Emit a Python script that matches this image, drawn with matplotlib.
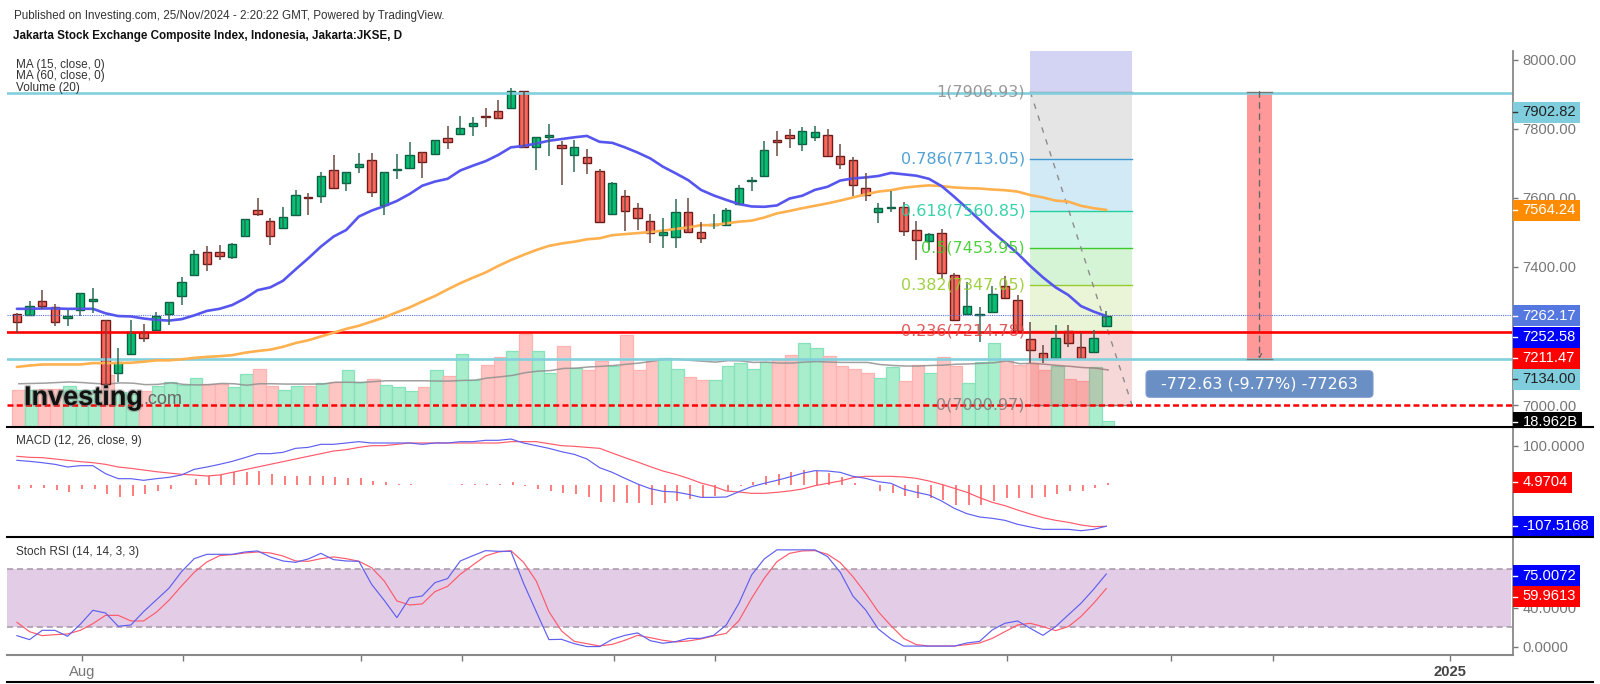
import matplotlib
matplotlib.use('Agg')
import matplotlib.pyplot as plt
import matplotlib.patheffects as pe
from matplotlib.patches import FancyBboxPatch
from matplotlib.transforms import Bbox
import numpy as np

plt.rcParams['font.family'] = ['Liberation Sans', 'DejaVu Sans']

# daily candles
opens = [7264,7260,7303,7283,7253,7276,7302,7246,7094,7148,
         7211,7218,7264,7317,7378,7444,7444,7429,7490,7564,
         7532,7513,7551,7602,7605,7681,7644,7690,7708,7578,
         7680,7685,7732,7728,7774,7785,7808,7837,7851,7861,
         7909,7747,7777,7752,7724,7717,7678,7552,7605,7570,
         7532,7493,7487,7559,7501,7520,7520,7581,7648,7662,
         7766,7782,7755,7777,7782,7720,7708,7628,7559,7570,
         7574,7506,7474,7498,7376,7264,7260,7271,7345,7304,
         7192,7150,7138,7215,7169,7153,7230]
highs = [7268,7301,7333,7293,7277,7326,7338,7247,7166,7247,
         7235,7270,7300,7370,7449,7462,7463,7468,7540,7599,
         7541,7573,7622,7615,7676,7723,7675,7730,7730,7675,
         7726,7760,7732,7767,7807,7837,7833,7860,7883,7917,
         7909,7777,7814,7763,7767,7740,7682,7645,7623,7584,
         7553,7542,7596,7599,7531,7552,7570,7638,7661,7764,
         7794,7798,7806,7809,7798,7755,7717,7671,7584,7621,
         7587,7533,7497,7510,7384,7357,7285,7346,7373,7319,
         7242,7174,7232,7232,7208,7218,7273]
lows = [7210,7260,7278,7229,7229,7258,7268,7054,7067,7148,
        7183,7218,7232,7291,7375,7389,7420,7423,7486,7546,
        7463,7513,7551,7550,7584,7627,7620,7673,7603,7550,
        7653,7685,7658,7728,7742,7785,7780,7806,7827,7861,
        7743,7680,7722,7638,7675,7669,7529,7552,7505,7507,
        7468,7454,7454,7501,7469,7509,7520,7578,7620,7662,
        7722,7745,7736,7763,7720,7684,7605,7592,7527,7559,
        7489,7420,7449,7366,7246,7264,7184,7271,7309,7215,
        7123,7121,7138,7170,7138,7153,7230]
closes = [7241,7286,7286,7241,7257,7326,7307,7063,7125,7211,
          7195,7257,7300,7356,7438,7410,7433,7467,7538,7554,
          7490,7545,7609,7599,7663,7627,7675,7698,7616,7675,
          7683,7724,7705,7767,7761,7801,7815,7835,7830,7909,
          7746,7777,7782,7743,7747,7701,7529,7644,7563,7543,
          7498,7502,7559,7501,7483,7523,7564,7628,7652,7739,
          7761,7774,7792,7789,7720,7697,7636,7609,7570,7574,
          7505,7478,7494,7382,7246,7287,7263,7322,7309,7215,
          7161,7133,7196,7179,7138,7196,7259]

ma15 = [7279,7279,7280,7280,7279,7279,7279,7266,7258,7257,
        7251,7247,7245,7249,7260,7273,7279,7290,7309,7333,
        7341,7360,7393,7425,7459,7488,7507,7546,7563,7576,
        7591,7611,7635,7647,7655,7679,7693,7706,7724,7746,
        7750,7757,7765,7770,7775,7779,7762,7759,7746,7731,
        7714,7690,7671,7651,7623,7607,7594,7582,7575,7574,
        7578,7598,7606,7623,7632,7650,7656,7659,7663,7672,
        7668,7664,7655,7634,7603,7570,7536,7502,7471,7439,
        7403,7370,7341,7319,7287,7271,7258]
ma60 = [7111,7115,7118,7118,7118,7118,7122,7122,7122,7123,
        7126,7130,7130,7133,7137,7140,7142,7145,7152,7157,
        7161,7169,7180,7188,7199,7210,7221,7230,7242,7254,
        7269,7283,7300,7316,7335,7353,7369,7384,7403,7420,
        7435,7449,7461,7468,7473,7480,7483,7492,7495,7498,
        7501,7505,7510,7514,7521,7521,7526,7531,7534,7543,
        7555,7562,7570,7577,7584,7592,7601,7610,7618,7622,
        7629,7633,7636,7634,7630,7628,7627,7624,7622,7618,
        7608,7601,7592,7589,7577,7570,7565]

# volume, billions
volume = [124,122,128,128,137,122,122,173,118,109,
          120,137,150,140,163,144,144,132,176,194,
          137,123,137,137,145,151,189,150,160,141,
          132,119,133,189,169,242,158,208,234,252,
          309,252,180,271,198,189,219,202,307,189,
          219,230,192,166,158,158,202,214,192,216,
          226,241,280,263,236,202,192,179,164,201,
          152,208,179,232,202,148,216,280,222,205,
          213,189,202,161,152,201,18.962]
volume_ma = [144,145,146,148,150,148,145,143,147,146,
             141,142,147,142,140,141,145,144,139,144,
             144,143,143,143,143,149,149,148,151,154,
             154,154,154,153,153,155,156,163,167,172,
             181,186,188,195,196,200,202,205,209,213,
             219,226,226,222,219,216,221,220,215,216,
             213,213,216,218,216,215,215,215,208,205,
             203,203,205,206,209,210,212,214,220,211,
             212,209,205,202,198,196,190]

macd_line = [62.8,60.2,56.8,52.6,45.8,49.2,49.2,28.8,16.1,16.1,
             11.9,16.1,19.5,25.5,39.9,45.8,52.6,60.2,69.6,79.7,
             79.7,83.1,93.3,95.8,103.5,103.5,106.9,110.3,106.9,106.9,
             106.9,106.9,103.5,106.9,106.9,110.3,110.3,113.7,113.7,117.0,
             106.9,100.1,93.3,84.8,78.0,66.2,44.1,32.2,17.0,2.6,
             -9.3,-16.1,-17.8,-23.7,-31.4,-31.4,-30.5,-17.0,-4.2,4.3,
             11.9,20.4,29.7,36.5,35.6,32.2,22.1,17.0,8.5,4.3,
             -10.2,-18.6,-25.4,-40.7,-59.3,-72.9,-81.4,-84.8,-89.9,-100.0,
             -106.8,-112.8,-112.8,-112.8,-116.2,-112.8,-105.0]
macd_signal = [73.0,70.4,69.6,66.2,62.8,59.4,56.8,52.6,45.8,42.4,
               38.2,33.9,30.5,27.2,25.5,22.9,25.5,32.2,39.0,45.8,
               52.6,59.4,66.2,73.0,79.7,86.5,89.9,95.8,100.1,100.1,
               103.5,106.9,106.9,106.9,106.9,106.9,106.9,106.9,106.9,110.3,
               110.3,110.3,105.2,100.1,98.4,95.8,93.3,81.4,69.6,58.5,
               46.7,35.6,27.2,17.0,5.1,-3.4,-15.2,-17.8,-21.2,-21.2,
               -18.6,-15.2,-10.2,-1.7,4.3,10.2,18.7,22.1,22.1,22.1,
               20.4,17.0,10.2,1.7,-8.5,-18.6,-32.2,-44.1,-52.6,-63.6,
               -73.8,-83.1,-89.9,-94.9,-101.7,-106.0,-105.0]
macd_hist = [-9.3,-8.5,-8.5,-13.6,-17,-9.3,-9.3,-23,-30,-27,
             -23,-16,-9,0,15,23,26,32,34,35,
             28,24,24,23,24,21,17,18,11,8,
             3,2.5,0,0,0,2,2,2,2,7,
             -2,-10,-14,-20,-23,-30,-42,-43,-47,-47,
             -50,-47,-41,-36,-31,-28,-15,-2,7,22,
             27,34,37,36,30,20,6,0.5,-14,-20,
             -28,-33,-33,-37,-50,-50,-50,-41,-34,-34,
             -34,-31,-24,-16,-14,-7,4.97]

stoch_k = [11.3,7.2,16.8,16.8,10.6,23.0,37.5,34.7,21.0,22.3,
           36.1,48.2,60.3,77.5,90.9,95.4,95.4,95.4,97.8,98.9,
           92.7,88.5,87.1,90.6,96.4,89.9,88.5,88.2,64.4,47.8,
           29.9,50.3,52.3,66.1,70.3,88.5,94.0,99.2,98.5,98.5,
           65.4,36.1,7.2,7.5,3.0,0,0,7.5,11.6,14.1,
           6.1,3.4,5.1,8.5,8.5,11.6,22.3,44.7,74.0,90.6,
           100,100,100,100,93,76.8,52.3,37.9,18.2,7.9,
           0.5,0.5,0.5,0.5,0.5,3.7,5.4,17.2,24.1,26.5,
           18.9,11.6,20.6,32.7,44.7,59.2,75.0]
stoch_d = [25.1,15.4,11.3,12.3,13.0,16.8,23.7,32.3,32.3,26.5,
           26.5,35.4,47.8,62.7,76.8,87.5,94.0,95.1,96.8,97.8,
           96.8,93.7,88.5,88.2,90.9,92.7,90.9,88.2,81.6,67.8,
           47.2,43.0,44.1,56.8,62.3,74.7,84.4,93.7,97.8,99.2,
           87.1,67.8,36.1,16.1,5.4,3.0,0.6,2.3,6.5,11.6,
           9.2,6.5,4.8,5.8,7.9,11.0,13.7,26.8,49.9,70.6,
           87.8,96.4,98.9,99.2,95.4,86.8,72.3,55.1,36.1,21.6,
           8.5,2.0,0.6,0.6,0.6,2.0,3.7,8.5,15.4,22.3,
           24.1,20.6,16.5,20.6,31.0,44.7,59.96]

fib_ratios = ['1', '0.786', '0.618', '0.5', '0.382', '0.236', '0']
fib_prices = [7906.93, 7713.05, 7560.85, 7453.95, 7347.05, 7214.78, 7000.97]
fib_colors = ['#8f8f8f', '#3f97d0', '#22cfa0', '#3ccb2a', '#97cc2e', '#dc4848', '#7f7f7f']
fib_fills = ['#808080', '#2196d2', '#1fd19a', '#2dcc2d', '#99cc33', '#d94040']

price_ticks = [7000, 7200, 7400, 7600, 7800, 8000]
date_ticks = [5, 13, 27, 35, 47, 55, 70, 78, 91, 99, 113]
date_labels = ['Aug', '', '', '', '', '', '', '', '', '', '2025']

# pixel layout of the panels
LEFT, RIGHT = 7, 1513
BAR0, STEP = 16.9, 12.667
W, H = 1600, 684
GREEN, RED = '#00c272', '#ff655b'
GREY = '#777777'


def panel(top, bottom, **kw):
    a = fig.add_axes([LEFT / W, 1 - bottom / H, (RIGHT - LEFT) / W, (bottom - top) / H], **kw)
    a.set_xlim((LEFT - BAR0) / STEP, (RIGHT - BAR0) / STEP)
    a.patch.set_alpha(0)
    for s in a.spines.values():
        s.set_visible(False)
    a.set_xticks([])
    return a


def right_axis(a, ticks, fmt):
    a.yaxis.tick_right()
    a.set_yticks(ticks)
    a.set_yticklabels([fmt % t for t in ticks], color=GREY, fontsize=10.6)
    a.tick_params(axis='y', length=3.5, width=1, color=GREY, pad=3.5)
    a.spines['right'].set_visible(True)
    a.spines['right'].set_color('#888888')
    a.spines['right'].set_linewidth(1.3)


fig = plt.figure(figsize=(W / 100, H / 100), dpi=100, facecolor='white')

x = np.arange(len(closes))
shift = 0.15
up = np.array(closes) >= np.array(opens)

# volume sits behind the price panel
ax_vol = panel(51, 427)
ax_vol.set_ylim(0, 376 * 3.33)
ax_vol.set_yticks([])
ax_vol.bar(x + shift, volume, width=1.0,
           color=['#a8edcc' if u else '#ffc5c3' for u in up],
           edgecolor=['#85e2ba' if u else '#ffb3b0' for u in up], linewidth=0.9)
ax_vol.plot(x + shift, volume_ma, color='#8f8f8f', lw=1.1, alpha=0.85)

ax = panel(51, 427)
ax.set_ylim(8172.1 - 2.892 * 427, 8172.1 - 2.892 * 51)
right_axis(ax, price_ticks, '%.2f')

# fib retracement
fib_left, fib_right = 80, 88.03
ax.fill_between([fib_left, fib_right], fib_prices[0], ax.get_ylim()[1], color='#5050d0', alpha=0.25, lw=0)
for i in range(len(fib_fills)):
    ax.fill_between([fib_left, fib_right], fib_prices[i + 1], fib_prices[i], color=fib_fills[i], alpha=0.2, lw=0)
for p, r, c in zip(fib_prices, fib_ratios, fib_colors):
    ax.plot([fib_left, fib_right], [p, p], color=c, lw=1.0)
    ax.text(fib_left - 0.42, p, '%s(%.2f)' % (r, p), color=c, ha='right', va='center',
            fontsize=11.5, family='DejaVu Sans', alpha=0.9)
ax.plot([fib_left, fib_right], [fib_prices[0], fib_prices[-1]], color='#8c8c8c', lw=1, ls=(0, (4, 5)))

# horizontal levels
ax.axhline(7904, color='#82d0de', lw=1.9)
ax.axhline(7134, color='#82d0de', lw=1.9)
ax.axhline(7211.47, color='#ff0000', lw=1.9)
ax.axhline(7000.97, color='#ff0000', lw=1.8, ls=(0, (2.4, 1.3)))
ax.axhline(7262.17, color='#5b72e0', lw=0.8, ls=(0, (1, 1)))

# price range box
ax.fill_between([97.1, 99.1], 7134, 7906.93, color='#ff0000', alpha=0.4, lw=0)
ax.plot([97.1, 99.1], [7906.93, 7906.93], color='#777777', lw=1)
ax.plot([97.1, 99.1], [7134, 7134], color='#777777', lw=1)
ax.annotate('', xy=(98.1, 7134), xytext=(98.1, 7906.93),
            arrowprops=dict(arrowstyle='->', ls=(0, (4, 4)), color='#666666', lw=1,
                            mutation_scale=7, shrinkA=0, shrinkB=0))

# moving averages
ax.plot(x, ma60, color='#ffb04f', lw=1.9, solid_capstyle='round')
ax.plot(x, ma15, color='#5656ee', lw=1.9, solid_capstyle='round')

# candles
ax.vlines(x[up], np.array(lows)[up], np.array(highs)[up], color='#2c6e55', lw=1.1)
ax.vlines(x[~up], np.array(lows)[~up], np.array(highs)[~up], color='#6d4a42', lw=1.1)
o = np.array(opens)
c = np.array(closes)
ax.bar(x[up], (c - o)[up], bottom=o[up], width=0.67, color=GREEN, edgecolor='#0c5f42', linewidth=1.0)
ax.bar(x[~up], (c - o)[~up], bottom=o[~up], width=0.67, color=RED, edgecolor='#701a1a', linewidth=1.0)

# MACD
ax_m = panel(427, 537)
ax_m.set_ylim(-132.3, 147.6)
right_axis(ax_m, [100], '%.4f')
ax_m.vlines(x + shift, 0, macd_hist, color='#ff3b3b', lw=1.1, alpha=0.85)
ax_m.plot(x, macd_signal, color='#ff5a6a', lw=0.85)
ax_m.plot(x, macd_line, color='#5f5ff0', lw=0.85)

# Stoch RSI
ax_s = panel(537, 654.5)
ax_s.set_ylim(-8.2, 113.3)
right_axis(ax_s, [0, 40], '%.4f')
ax_s.axhspan(20, 80, xmax=0.9987, color='#e3cde6', lw=0)
for lvl in [20, 80]:
    ax_s.axhline(lvl, color='#a594a8', lw=1.1, ls=(0, (4, 2.5)))
ax_s.plot(x, stoch_d, color='#ff5a6a', lw=0.85)
ax_s.plot(x, stoch_k, color='#5f5ff0', lw=0.85)
ax_s.spines['bottom'].set_visible(True)
ax_s.spines['bottom'].set_color('#888888')
ax_s.spines['bottom'].set_linewidth(1.5)
ax_s.set_xticks(np.array(date_ticks) + shift)
ax_s.set_xticklabels(date_labels, color=GREY, fontsize=10.6)
ax_s.tick_params(axis='x', length=4.5, width=1, color=GREY, pad=3)
ax_s.get_xticklabels()[-1].set_fontweight('bold')
ax_s.get_xticklabels()[-1].set_color('#444444')

# overlay in pixels for titles, tags and separators
ov = fig.add_axes([0, 0, 1, 1], zorder=20)
ov.set_xlim(0, W)
ov.set_ylim(H, 0)
ov.axis('off')

for yy in [427, 537, 682]:
    ov.plot([LEFT, 1593], [yy, yy], color='black', lw=1.5)

ov.text(14.5, 16, 'Published on Investing.com, 25/Nov/2024 - 2:20:22 GMT, Powered by TradingView.',
        fontsize=8.4, color='#333333', va='center')
ov.text(13, 35.7, 'Jakarta Stock Exchange Composite Index, Indonesia, Jakarta:JKSE, D',
        fontsize=8.4, color='#111111', va='center', fontweight='bold')
for yy, s in zip([65, 76, 88], ['MA (15, close, 0)', 'MA (60, close, 0)', 'Volume (20)']):
    ov.text(16, yy, s, fontsize=8.5, color='#333333', va='center')
ov.text(16, 441, 'MACD (12, 26, close, 9)', fontsize=8.5, color='#333333', va='center')
ov.text(16, 552, 'Stoch RSI (14, 14, 3, 3)', fontsize=8.5, color='#333333', va='center')

ov.text(24, 398, 'Investing', fontsize=19.5, fontweight='bold', color='#111111', va='center',
        path_effects=[pe.withStroke(linewidth=2, foreground='#777777', alpha=0.45)])
ov.text(143, 399, '.com', fontsize=13, color='#666666', va='center')

# measure label box
ov.add_patch(FancyBboxPatch((1150, 374.7), 219, 18.6, boxstyle='round,pad=4,rounding_size=4',
                            fc='#6a8fc4', ec='#7d9dcc', lw=0.8))
ov.text(1259.5, 384, '-772.63 (-9.77%) -77263', color='white', ha='center', va='center',
        fontsize=11.5, family='DejaVu Sans')

# value tags on the right axis: text, centre y, right end, fill, text colour
tag_texts = ['7902.82', '7564.24', '7262.17', '7252.58', '7211.47', '7134.00', '18.962B',
             '4.9704', '-107.5168', '75.0072', '59.9613']
tag_y = [112, 210, 315.5, 337, 358, 379, 422, 482, 526, 575.5, 596.5]
tag_end = [1580, 1580, 1580, 1580, 1580, 1580, 1582, 1572, 1594, 1580, 1580]
tag_fill = ['#7fcddd', '#ff8c00', '#5578e0', '#0000ff', '#ff0000', '#7fcddd', '#000000',
            '#ff0000', '#0000ff', '#0000ff', '#ff0000']
tag_ink = ['#222222', 'white', 'white', 'white', 'white', '#222222', 'white',
           'white', 'white', 'white', 'white']
for t, yy, e, f, k in zip(tag_texts, tag_y, tag_end, tag_fill, tag_ink):
    top = yy - 10.5
    if t == '18.962B':
        top = 411.5
    bot = min(yy + 10.5, 426.5) if t == '18.962B' else yy + 10.5
    ov.fill_between([RIGHT, e], top, bot, color=f, lw=0)
    ov.plot([RIGHT, RIGHT + 4], [yy, yy], color='white' if k == 'white' else '#333333', lw=1)
    lab = ov.text(1522.7, yy, t, color=k, fontsize=10.6, va='center')
    if t == '18.962B':
        lab.set_clip_on(True)
        lab.set_clip_box(Bbox([[RIGHT, H - 426.5], [1600, H - 405]]))

fig.savefig('out.png', dpi=100)
